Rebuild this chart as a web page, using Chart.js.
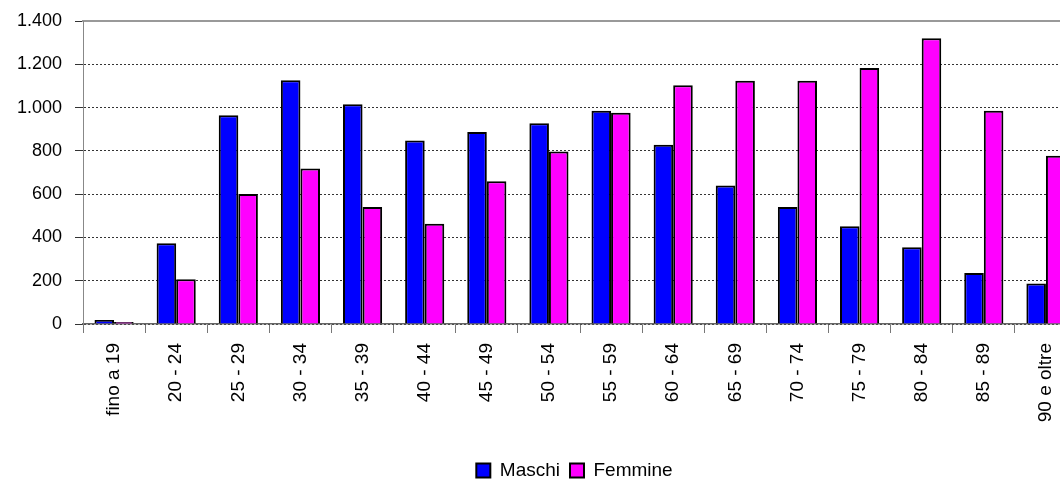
<!DOCTYPE html>
<html>
<head>
<meta charset="utf-8">
<script src="https://cdn.jsdelivr.net/npm/chart.js@4/dist/chart.umd.min.js"></script>
<style>
  html, body { margin: 0; padding: 0; overflow: hidden; background: #fff; }
</style>
</head>
<body>
<canvas id="chart" width="1100" height="486"></canvas>
<script>
// fasce d'età e valori
const labels = ['fino a 19', '20 - 24', '25 - 29', '30 - 34', '35 - 39', '40 - 44', '45 - 49', '50 - 54',
    '55 - 59', '60 - 64', '65 - 69', '70 - 74', '75 - 79', '80 - 84', '85 - 89', '90 e oltre'];
const maschi = [19, 373, 965, 1126, 1015, 848, 887, 927, 985, 828, 640, 541, 452, 355, 236, 187];
const femmine = [9, 207, 601, 719, 541, 463, 660, 797, 976, 1103, 1124, 1124, 1183, 1320, 985, 777];
const yTicks = [0, 200, 400, 600, 800, 1000, 1200, 1400];

const fontFamily = '"Liberation Sans", Arial, sans-serif';

// legenda spostata a destra come nell'originale (il grafico è tagliato a destra)
const shiftLegend = {
    id: 'shiftLegend',
    afterLayout(chart) {
        chart.legend.left += 36;
        chart.legend.right += 36;
    }
};

function itFormat(v) {
    return String(v).replace(/\B(?=(\d{3})+(?!\d))/g, '.');
}

const ctx = document.getElementById('chart').getContext('2d');
new Chart(ctx, {
    type: 'bar',
    data: {
        labels: labels,
        datasets: [{
            label: 'Maschi',
            data: maschi,
            backgroundColor: '#0000ff',
            borderColor: '#000',
            borderWidth: 2
        }, {
            label: 'Femmine',
            data: femmine,
            backgroundColor: '#ff00ff',
            borderColor: '#000',
            borderWidth: 2
        }]
    },
    options: {
        responsive: false,
        animation: false,
        devicePixelRatio: 1,
        categoryPercentage: 0.63,
        barPercentage: 1,
        layout: {padding: {top: 21, right: 23, bottom: -4, left: 0}},
        scales: {
            x: {
                ticks: {
                    color: '#000', font: {family: fontFamily, size: 19},
                    autoSkip: false, minRotation: 90, maxRotation: 90, padding: 10
                },
                grid: {drawOnChartArea: false, tickLength: 9, color: '#777'},
                border: {color: '#666', width: 1.5},
                afterFit: s => { s.height = 127; }
            },
            // bordo superiore dell'area del grafico
            x2: {
                position: 'top',
                type: 'category',
                labels: labels,
                ticks: {display: false},
                grid: {display: false, drawTicks: false},
                border: {color: '#999', width: 2},
                afterFit: s => { s.height = 0; }
            },
            y: {
                min: 0,
                max: 1400,
                afterBuildTicks: s => { s.ticks = yTicks.map(v => ({value: v})); },
                ticks: {
                    color: '#000', font: {family: fontFamily, size: 18, lineHeight: 0.6},
                    padding: 13, callback: v => itFormat(v)
                },
                grid: {
                    color: c => (c.tick && c.tick.value === 1400) ? 'rgba(0,0,0,0)' : '#333',
                    tickColor: '#333',
                    tickLength: 8
                },
                border: {color: '#888', width: 1, dash: [2, 2]},
                afterFit: s => { s.width = 83; }
            }
        },
        plugins: {
            legend: {
                position: 'bottom',
                labels: {color: '#000', font: {family: fontFamily, size: 19}, boxWidth: 14, boxHeight: 14, padding: 10}
            },
            tooltip: {enabled: false}
        }
    },
    plugins: [shiftLegend]
});
</script>
</body>
</html>
